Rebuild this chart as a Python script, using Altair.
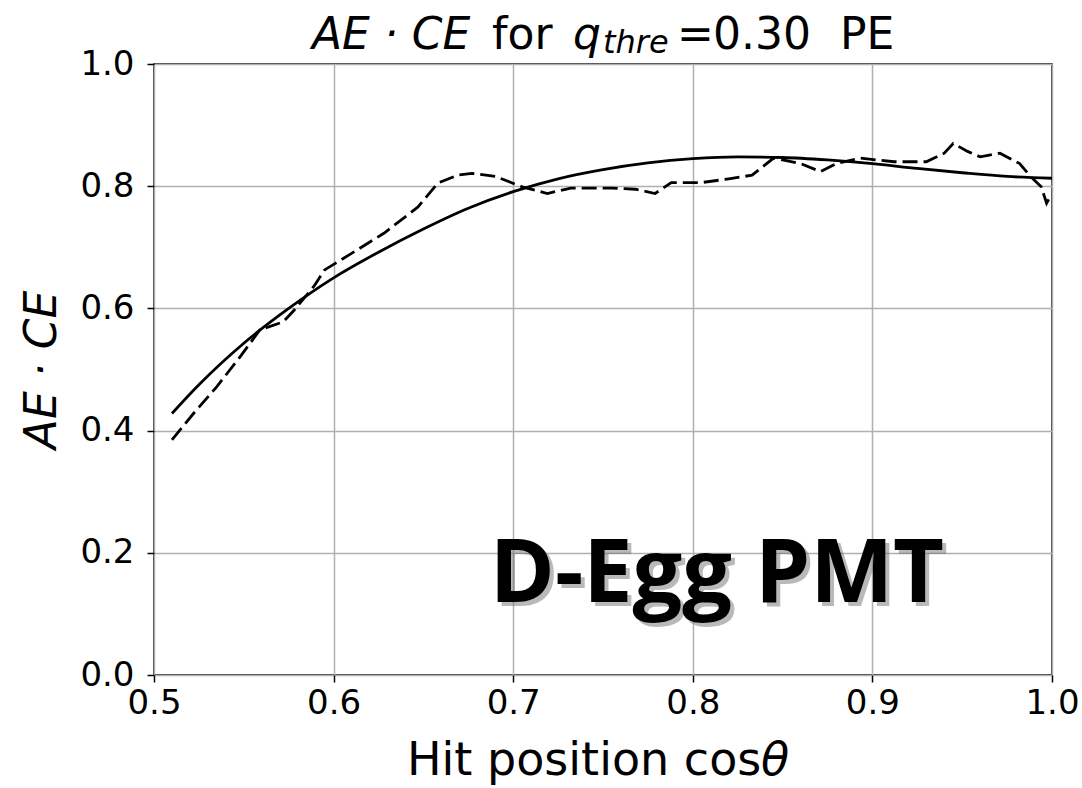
import altair as alt
import pandas as pd

# ---- data ----
fit_x = [0.51, 0.525, 0.55, 0.575, 0.6, 0.625, 0.65, 0.675, 0.7, 0.725, 0.75,
         0.775, 0.8, 0.825, 0.85, 0.875, 0.9, 0.925, 0.95, 0.975, 1.0]
fit_y = [0.428, 0.475, 0.543, 0.600, 0.650, 0.692, 0.730, 0.764, 0.791, 0.812, 0.827,
         0.838, 0.845, 0.848, 0.847, 0.843, 0.837, 0.829, 0.822, 0.816, 0.813]

meas_x = [0.510, 0.522, 0.535, 0.548, 0.559, 0.572, 0.578, 0.589, 0.595, 0.610,
          0.628, 0.647, 0.658, 0.669, 0.677, 0.690, 0.705, 0.719, 0.732, 0.755,
          0.768, 0.779, 0.788, 0.805, 0.820, 0.833, 0.839, 0.845, 0.850, 0.860,
          0.871, 0.880, 0.893, 0.912, 0.930, 0.940, 0.945, 0.953, 0.960, 0.971,
          0.982, 0.988, 0.994, 0.997, 0.999]
meas_y = [0.385, 0.428, 0.472, 0.521, 0.565, 0.578, 0.597, 0.636, 0.663, 0.690,
          0.723, 0.766, 0.805, 0.818, 0.821, 0.816, 0.799, 0.788, 0.797, 0.797,
          0.795, 0.788, 0.806, 0.806, 0.812, 0.818, 0.832, 0.846, 0.843, 0.837,
          0.824, 0.837, 0.846, 0.840, 0.840, 0.854, 0.870, 0.857, 0.848, 0.854,
          0.837, 0.816, 0.799, 0.772, 0.783]

x_ticks = [0.5, 0.6, 0.7, 0.8, 0.9, 1.0]
y_ticks = [0.0, 0.2, 0.4, 0.6, 0.8, 1.0]

label_text = ["D-Egg PMT"]
label_x = [0.687]
label_y = [0.119]

W, H = 898, 611

fit_df = pd.DataFrame({"x": fit_x, "y": fit_y})
meas_df = pd.DataFrame({"x": meas_x, "y": meas_y})
lab_df = pd.DataFrame({"x": label_x, "y": label_y, "t": label_text})
one = pd.DataFrame({"a": [0]})

xscale = alt.Scale(domain=[0.5, 1.0], nice=False, zero=False)
yscale = alt.Scale(domain=[0.0, 1.0], nice=False, zero=False)

common_axis = dict(grid=True, gridColor="#b0b0b0", gridWidth=1.5, domain=False,
                   tickColor="black", tickSize=7, tickWidth=1.5,
                   labelFont="DejaVu Sans", labelFontSize=34, labelColor="black",
                   labelOverlap=False, titleColor="black", titleFont="DejaVu Sans",
                   titleFontWeight="normal")

xaxis = alt.Axis(values=x_ticks, format=".1f", title="",
                 labelPadding=4, labelFlush=False, **common_axis)
yaxis = alt.Axis(values=y_ticks, format=".1f", title="AE · CE",
                 labelPadding=13, titleFontSize=44, titleFontStyle="italic",
                 titleX=-99, titleY=H / 2, titleAngle=270, titleAlign="center",
                 titleBaseline="alphabetic", **common_axis)

fit = alt.Chart(fit_df).mark_line(color="black", strokeWidth=2.8, interpolate="monotone").encode(
    x=alt.X("x:Q", scale=xscale, axis=xaxis),
    y=alt.Y("y:Q", scale=yscale, axis=yaxis),
)
meas = alt.Chart(meas_df).mark_line(color="black", strokeWidth=2.8, strokeDash=[15, 6]).encode(
    x=alt.X("x:Q", scale=xscale),
    y=alt.Y("y:Q", scale=yscale),
)

shadow = alt.Chart(lab_df).mark_text(font="Open Sans", fontWeight="bold", fontSize=88,
                                     align="left", baseline="alphabetic", color="#666666",
                                     opacity=0.45, dx=4, dy=4).encode(
    x=alt.X("x:Q", scale=xscale), y=alt.Y("y:Q", scale=yscale), text="t:N")
label = alt.Chart(lab_df).mark_text(font="Open Sans", fontWeight="bold", fontSize=88,
                                    align="left", baseline="alphabetic", color="black").encode(
    x=alt.X("x:Q", scale=xscale), y=alt.Y("y:Q", scale=yscale), text="t:N")


# text pieces for math-style title and x-axis title
def piece(txt, px, py, size=44, style="normal"):
    return alt.Chart(one).mark_text(text=txt, font="DejaVu Sans", fontSize=size,
                                    fontStyle=style, align="left", baseline="alphabetic",
                                    color="black").encode(x=alt.value(px), y=alt.value(py))


text_layers = [
    piece("AE · CE", 158, -15, style="italic"),
    piece("for", 338, -15),
    piece("q", 419, -15, style="italic"),
    piece("thre", 449, -11, size=32, style="italic"),
    piece("=", 523, -15),
    piece("0.30", 559, -15),
    piece("PE", 686, -15),
    piece("Hit position cos", 253, 711, size=46),
    piece("θ", 607, 711, size=46, style="italic"),
]

chart = alt.layer(fit, meas, shadow, label, *text_layers).properties(
    width=W, height=H,
    autosize=alt.AutoSizeParams(type="none"),
    padding={"left": 154, "top": 64, "right": 30, "bottom": 113},
    background="white",
).configure_view(stroke="black", strokeWidth=1.5)

chart.save("out.html", embed_options={"renderer": "svg", "actions": False})
